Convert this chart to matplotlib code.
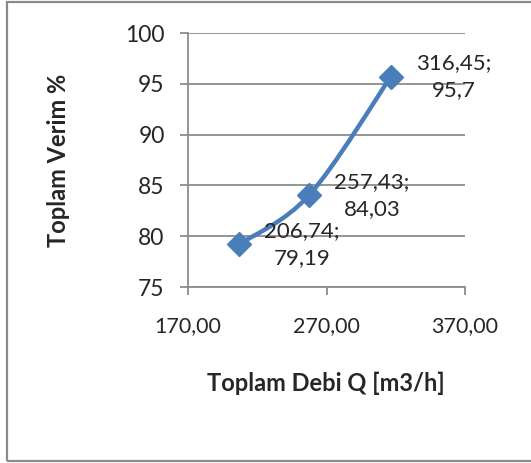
import matplotlib
matplotlib.use("Agg")
import matplotlib.pyplot as plt
from matplotlib.path import Path
from matplotlib.patches import PathPatch, Rectangle
import numpy as np

# Data
debi = [206.74, 257.43, 316.45]
verim = [79.19, 84.03, 95.7]
point_labels = ["206,74;\n79,19", "257,43;\n84,03", "316,45;\n95,7"]
x_ticks = [170, 270, 370]
x_tick_labels = ["170,00", "270,00", "370,00"]
y_ticks = [75, 80, 85, 90, 95, 100]

plt.rcParams['font.family'] = ['Lato', 'DejaVu Sans']
text_color = "#262626"
grid_color = "#8c8c8c"
line_color = "#4a7ebb"
fs = 15.5

fig = plt.figure(figsize=(5.31, 4.63), dpi=100)
fig.patch.set_facecolor("white")

# outer chart border
fig.add_artist(Rectangle((7 / 531, 2 / 463), 1.2, 459 / 463, transform=fig.transFigure,
                         fill=False, edgecolor="#8a8a8a", linewidth=1.6))

ax = fig.add_axes([188 / 531, 176 / 463, 277 / 531, 254 / 463])
ax.set_xlim(170, 370)
ax.set_ylim(75, 100)

for s in ["top", "right"]:
    ax.spines[s].set_visible(False)
for s in ["left", "bottom"]:
    ax.spines[s].set_color(grid_color)
    ax.spines[s].set_linewidth(1.3)

ax.set_yticks(y_ticks)
ax.set_yticklabels([str(v) for v in y_ticks])
ax.set_xticks(x_ticks)
ax.set_xticklabels(x_tick_labels)
ax.tick_params(axis="y", length=5.8, width=1.3, color=grid_color, pad=11,
               labelsize=fs + 1, labelcolor=text_color)
ax.tick_params(axis="x", length=5.8, width=1.3, color=grid_color, pad=15.5,
               labelsize=fs, labelcolor=text_color)
ax.grid(axis="y", color=grid_color, linewidth=1.3)
ax.set_axisbelow(True)

# smoothed line (cardinal Bezier segments through the points)
pts = np.column_stack([debi, verim])
verts = [tuple(pts[0])]
codes = [Path.MOVETO]
n = len(pts)
for i in range(n - 1):
    p0 = pts[i - 1] if i > 0 else pts[i]
    p1 = pts[i]
    p2 = pts[i + 1]
    p3 = pts[i + 2] if i + 2 < n else pts[i + 1]
    c1 = p1 + (p2 - p0) / 6.0
    c2 = p2 - (p3 - p1) / 6.0
    verts += [tuple(c1), tuple(c2), tuple(p2)]
    codes += [Path.CURVE4] * 3
ax.add_patch(PathPatch(Path(verts, codes), fill=False, edgecolor=line_color,
                       linewidth=3.2, capstyle="round", joinstyle="round", zorder=3))
ax.plot(debi, verim, linestyle="none", marker="D", markersize=12,
        color=line_color, zorder=4, clip_on=False)

for x, y, lab in zip(debi, verim, point_labels):
    ax.annotate(lab, (x, y), xytext=(25, 0), textcoords="offset pixels",
                ha="left", va="center", multialignment="center",
                fontsize=fs + 0.5, color=text_color, linespacing=1.45, zorder=5)

fig.text(58 / 531, 1 - 160 / 463, "Toplam Verim %", rotation=90, ha="center",
         va="center", fontsize=17, fontweight="bold", color=text_color)
fig.text(326 / 531, 1 - 383 / 463, "Toplam Debi Q [m3/h]", ha="center",
         va="center", fontsize=17, fontweight="bold", color=text_color)

fig.savefig("out.png", dpi=100)
